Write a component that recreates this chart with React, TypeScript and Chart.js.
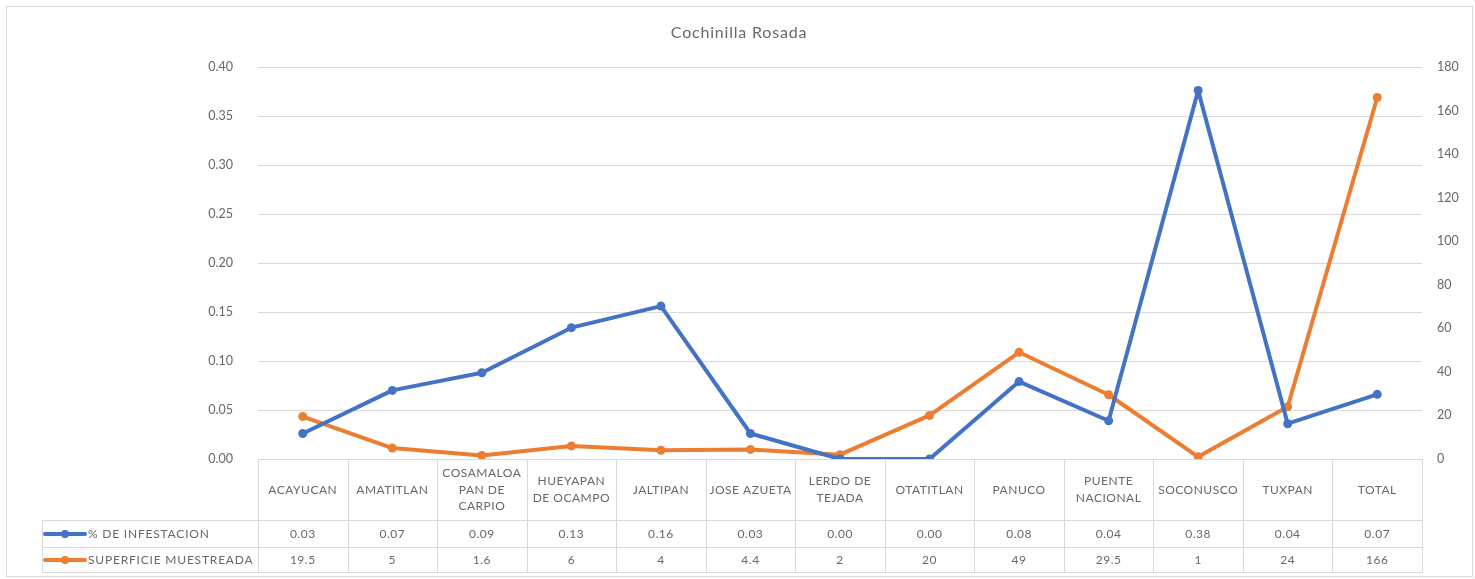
import { useEffect, useRef } from "react";
import { Chart, registerables } from "chart.js";

Chart.register(...registerables);

const chartTitle = "Cochinilla Rosada";
const categories: string[][] = [
  ["ACAYUCAN"],
  ["AMATITLAN"],
  ["COSAMALOA", "PAN DE", "CARPIO"],
  ["HUEYAPAN", "DE OCAMPO"],
  ["JALTIPAN"],
  ["JOSE AZUETA"],
  ["LERDO DE", "TEJADA"],
  ["OTATITLAN"],
  ["PANUCO"],
  ["PUENTE", "NACIONAL"],
  ["SOCONUSCO"],
  ["TUXPAN"],
  ["TOTAL"],
];
const seriesNames = ["% DE INFESTACION", "SUPERFICIE MUESTREADA"];
const infestacion = [0.026, 0.07, 0.088, 0.134, 0.156, 0.026, 0.0, 0.0, 0.079, 0.039, 0.376, 0.036, 0.066];
const superficie = [19.5, 5, 1.6, 6, 4, 4.4, 2, 20, 49, 29.5, 1, 24, 166];
const seriesColors = ["#4472C4", "#ED7D31"];
const leftAxis = { min: 0, max: 0.4, step: 0.05 };
const rightAxis = { min: 0, max: 180, step: 20 };

const FONT = "Lato, 'Open Sans', sans-serif";
const TEXT = "#686868";
const LINE = "#d9d9d9";

const tablePlugin = {
  id: "excelTable",
  beforeDatasetsDraw(chart: any) {
    const { ctx, chartArea, scales } = chart;
    const xs = scales.x;
    const n = categories.length;
    const step = xs.getPixelForValue(1) - xs.getPixelForValue(0);
    const top = Math.round(chartArea.bottom);
    const r1 = 520.5;
    const r2 = 547.5;
    const r3 = 572.5;
    const rowLeft = 42.5;
    const right = Math.round(chartArea.right) + 0.5;
    ctx.save();
    ctx.strokeStyle = LINE;
    ctx.lineWidth = 1;
    ctx.beginPath();
    for (let i = 0; i <= n; i++) {
      const bx = Math.round(xs.getPixelForValue(0) - step / 2 + i * step) + 0.5;
      ctx.moveTo(bx, top);
      ctx.lineTo(bx, r3);
    }
    ctx.moveTo(rowLeft, r1);
    ctx.lineTo(rowLeft, r3);
    [r1, r2, r3].forEach((yy) => {
      ctx.moveTo(rowLeft, yy);
      ctx.lineTo(right, yy);
    });
    ctx.stroke();

    // category headers
    ctx.fillStyle = TEXT;
    ctx.font = `12px ${FONT}`;
    (ctx as any).letterSpacing = "0.5px";
    ctx.textAlign = "center";
    ctx.textBaseline = "middle";
    const hc = (top + r1) / 2;
    const lh = 16.5;
    categories.forEach((lines, i) => {
      const cx = xs.getPixelForValue(i);
      lines.forEach((t, j) => {
        const yy = hc + (j - (lines.length - 1) / 2) * lh;
        ctx.fillText(t, cx, yy);
      });
    });

    // values
    ctx.font = `12px ${FONT}`;
    (ctx as any).letterSpacing = "0.5px";
    const rowsY = [(r1 + r2) / 2, (r2 + r3) / 2];
    infestacion.forEach((v, i) => {
      ctx.fillText(v.toFixed(2), xs.getPixelForValue(i), rowsY[0]);
    });
    superficie.forEach((v, i) => {
      ctx.fillText(String(v), xs.getPixelForValue(i), rowsY[1]);
    });

    // row headers with legend keys
    seriesNames.forEach((name, k) => {
      const yy = rowsY[k];
      ctx.strokeStyle = seriesColors[k];
      ctx.lineWidth = 4;
      ctx.lineCap = "round";
      ctx.beginPath();
      ctx.moveTo(45, yy);
      ctx.lineTo(85, yy);
      ctx.stroke();
      ctx.fillStyle = seriesColors[k];
      ctx.beginPath();
      ctx.arc(65, yy, 4, 0, Math.PI * 2);
      ctx.fill();
      ctx.fillStyle = TEXT;
      ctx.textAlign = "left";
      ctx.font = `12px ${FONT}`;
      (ctx as any).letterSpacing = "0.8px";
      ctx.fillText(name, 88, yy);
    });
    ctx.restore();
  },
  afterDraw(chart: any) {
    const { ctx } = chart;
    ctx.save();
    ctx.strokeStyle = LINE;
    ctx.lineWidth = 1;
    ctx.strokeRect(6.5, 6.5, 1466, 570);
    ctx.fillStyle = TEXT;
    ctx.font = `16px ${FONT}`;
    (ctx as any).letterSpacing = "0.8px";
    ctx.textAlign = "center";
    ctx.textBaseline = "middle";
    ctx.fillText(chartTitle, 739, 33);
    ctx.restore();
  },
};

export default function App() {
  const ref = useRef<HTMLCanvasElement | null>(null);
  useEffect(() => {
    if (!ref.current) return;
    const mk = (k: number, data: number[], axis: string) => ({
      label: seriesNames[k],
      data,
      yAxisID: axis,
      borderColor: seriesColors[k],
      backgroundColor: seriesColors[k],
      pointBackgroundColor: seriesColors[k],
      pointBorderColor: seriesColors[k],
      borderWidth: 4,
      pointRadius: 4.5,
      pointBorderWidth: 0,
      borderJoinStyle: "round",
      borderCapStyle: "round",
      tension: 0,
    });
    const chart = new Chart(ref.current, {
      type: "line",
      data: {
        labels: categories,
        datasets: [mk(0, infestacion, "y"), mk(1, superficie, "y1")],
      },
      options: {
        responsive: false,
        animation: false,
        layout: { padding: { top: 67, bottom: 120, left: 0, right: 0 } },
        plugins: {
          legend: { display: false },
          title: { display: false },
          tooltip: { enabled: false },
        },
        scales: {
          x: { type: "category", offset: true, display: false },
          y: {
            position: "left",
            min: leftAxis.min,
            max: leftAxis.max,
            afterFit: (s: any) => {
              s.width = 258;
            },
            ticks: {
              stepSize: leftAxis.step,
              padding: 25,
              color: TEXT,
              font: { family: FONT, size: 12.5 },
              callback: (v: any) => Number(v).toFixed(2),
            },
            grid: { color: LINE, drawTicks: false, lineWidth: 1 },
            border: { display: false },
          },
          y1: {
            position: "right",
            min: rightAxis.min,
            max: rightAxis.max,
            afterFit: (s: any) => {
              s.width = 53;
            },
            ticks: {
              stepSize: rightAxis.step,
              padding: 15,
              color: TEXT,
              font: { family: FONT, size: 12.5 },
            },
            grid: { display: false, drawTicks: false },
            border: { display: false },
          },
        },
      },
      plugins: [tablePlugin],
    } as any);
    return () => chart.destroy();
  }, []);
  return (
    <div style={{ position: "absolute", left: 0, top: 0, width: 1475, height: 579, background: "#fff" }}>
      <canvas ref={ref} width={1475} height={579} style={{ display: "block" }} />
    </div>
  );
}
